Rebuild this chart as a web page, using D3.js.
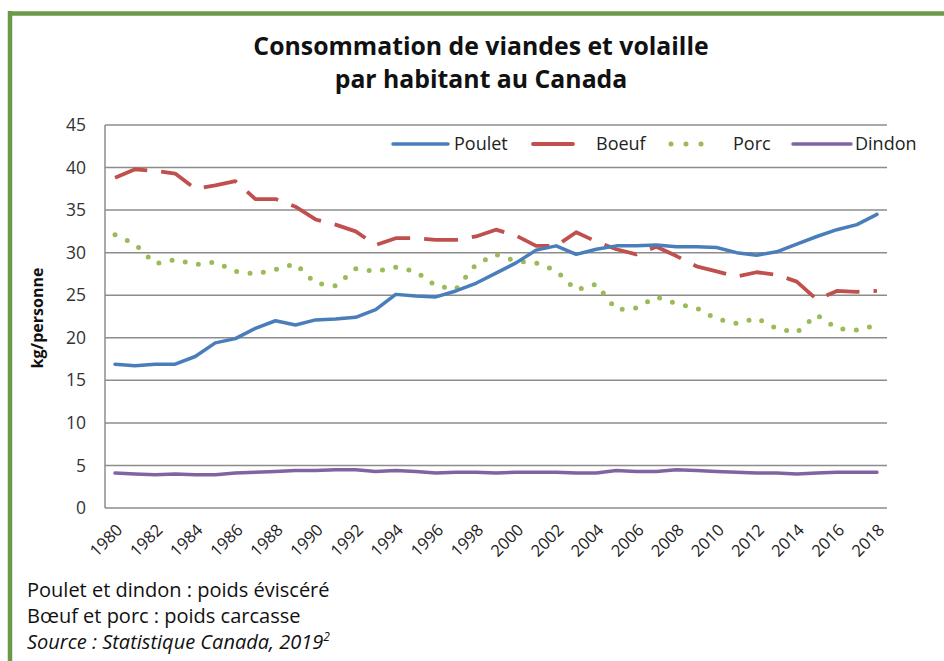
<!DOCTYPE html>
<html>
<head>
<meta charset="utf-8">
<script src="https://cdn.jsdelivr.net/npm/d3@7"></script>
<style>
  html, body { margin: 0; padding: 0; background: #fff; }
  svg { display: block; }
</style>
</head>
<body>
<svg id="chart" width="944" height="661"></svg>
<script>
const years = d3.range(1980, 2019);
const poulet = [16.9,16.7,16.9,16.9,17.8,19.4,19.9,21.1,22.0,21.5,22.1,22.2,22.4,23.3,25.1,24.9,24.8,25.5,26.4,27.6,28.8,30.3,30.8,29.8,30.4,30.8,30.8,30.9,30.7,30.7,30.6,30.0,29.7,30.1,31.0,31.9,32.7,33.3,34.5];
const boeuf = [38.8,39.8,39.6,39.3,37.5,37.9,38.4,36.3,36.3,35.4,33.9,33.3,32.5,30.9,31.7,31.7,31.5,31.5,31.9,32.7,32.0,30.8,30.8,32.4,31.3,30.4,29.8,30.7,29.6,28.4,27.8,27.2,27.7,27.4,26.6,24.5,25.5,25.4,25.5];
const porc = [32.1,31.0,28.7,29.2,28.6,28.9,27.8,27.5,28.0,28.7,26.4,26.1,28.1,27.8,28.3,27.8,26.1,25.7,28.6,29.8,29.0,28.8,27.9,25.6,26.3,23.3,23.5,24.8,24.0,23.5,22.2,21.7,22.3,21.1,20.6,22.7,21.1,20.9,21.5];
const dindon = [4.1,4.0,3.9,4.0,3.9,3.9,4.1,4.2,4.3,4.4,4.4,4.5,4.5,4.3,4.4,4.3,4.1,4.2,4.2,4.1,4.2,4.2,4.2,4.1,4.1,4.4,4.3,4.3,4.5,4.4,4.3,4.2,4.1,4.1,4.0,4.1,4.2,4.2,4.2];
const yTicks = [0,5,10,15,20,25,30,35,40,45];
const xTickYears = years.filter(y => y % 2 === 0);
const seriesNames = ["Poulet", "Boeuf", "Porc", "Dindon"];
const titleLines = ["Consommation de viandes et volaille", "par habitant au Canada"];
const notes = ["Poulet et dindon : poids éviscéré", "Bœuf et porc : poids carcasse"];
const source = "Source : Statistique Canada, 2019";

const FONT = "'Open Sans', Lato, sans-serif";
const svg = d3.select("#chart");

// frame
svg.append("line").attr("x1", 8).attr("x2", 944).attr("y1", 13.5).attr("y2", 13.5)
  .attr("stroke", "#6b9a47").attr("stroke-width", 4.5);
svg.append("line").attr("x1", 10).attr("x2", 10).attr("y1", 11).attr("y2", 661)
  .attr("stroke", "#6b9a47").attr("stroke-width", 4.5);

const L = 105, R = 887, T = 125, B = 508;
const x = d3.scalePoint().domain(years).range([L, R]).padding(0.5);
const y = d3.scaleLinear().domain([0, 45]).range([B, T]);

// gridlines
svg.append("g").selectAll("line").data(yTicks).join("line")
  .attr("x1", L).attr("x2", R)
  .attr("y1", d => y(d)).attr("y2", d => y(d))
  .attr("stroke", "#8c8c8c").attr("stroke-width", 1.5);
svg.append("line").attr("x1", L).attr("x2", L).attr("y1", T).attr("y2", B)
  .attr("stroke", "#8c8c8c").attr("stroke-width", 1.5);

// y tick labels
const yAxis = d3.axisLeft(y).tickValues(yTicks).tickSize(0).tickPadding(19);
const gy = svg.append("g").attr("transform", `translate(${L},0)`).call(yAxis);
gy.select(".domain").remove();
gy.selectAll("text").attr("font-family", FONT).attr("font-size", 17.5).attr("fill", "#333");

// x tick labels
const xAxis = d3.axisBottom(x).tickValues(xTickYears).tickSize(0).tickPadding(0);
const gx = svg.append("g").attr("transform", `translate(0,${B})`).call(xAxis);
gx.select(".domain").remove();
gx.selectAll("text")
  .attr("font-family", FONT).attr("font-size", 16.5).attr("fill", "#222")
  .attr("text-anchor", "end").attr("dy", null).attr("y", 0)
  .attr("transform", "translate(8,23) rotate(-45)");

// y axis title
svg.append("text").attr("transform", "translate(43,318) rotate(-90)")
  .attr("text-anchor", "middle").attr("font-family", FONT).attr("font-weight", "bold")
  .attr("font-size", 16).attr("fill", "#111").text("kg/personne");

// title
svg.append("g").selectAll("text").data(titleLines).join("text")
  .attr("x", 481).attr("y", (d, i) => 55 + i * 33)
  .attr("text-anchor", "middle").attr("font-family", FONT).attr("font-weight", "bold")
  .attr("font-size", 24.8).attr("fill", "#111").text(d => d);

const line = d3.line().x((d, i) => x(years[i])).y(d => y(d));
const styles = {
  Poulet: { color: "#4a7ebb", dash: null, cap: "round", w: 3.5 },
  Boeuf: { color: "#c0504d", dash: "34,14", cap: "butt", w: 3.8 },
  Porc: { color: "#9bbb59", dash: "0,13.5", cap: "round", w: 5 },
  Dindon: { color: "#8064a2", dash: null, cap: "round", w: 3.5 }
};
const data = { Poulet: poulet, Boeuf: boeuf, Porc: porc, Dindon: dindon };
const drawOrder = ["Dindon", "Porc", "Boeuf", "Poulet"];
drawOrder.forEach(name => {
  const s = styles[name];
  svg.append("path").datum(data[name]).attr("d", line)
    .attr("fill", "none").attr("stroke", s.color).attr("stroke-width", s.w)
    .attr("stroke-linecap", s.cap).attr("stroke-linejoin", "round")
    .attr("stroke-dasharray", s.dash);
});

// legend
const legend = [
  { name: "Poulet", x1: 393, x2: 448, tx: 454 },
  { name: "Boeuf", x1: 533, x2: 573, tx: 596 },
  { name: "Porc", x1: 671, x2: 716, tx: 733 },
  { name: "Dindon", x1: 793, x2: 851, tx: 855 }
];
const ly = 144;
const lg = svg.append("g");
legend.forEach(l => {
  const s = styles[l.name];
  lg.append("line").attr("x1", l.x1).attr("x2", l.x2).attr("y1", ly).attr("y2", ly)
    .attr("stroke", s.color).attr("stroke-width", s.w)
    .attr("stroke-linecap", "round")
    .attr("stroke-dasharray", l.name === "Porc" ? "0,15" : null);
  lg.append("text").attr("x", l.tx).attr("y", ly + 6).attr("font-family", FONT)
    .attr("font-size", 18).attr("fill", "#222").text(l.name);
});

// notes
svg.append("g").selectAll("text").data(notes).join("text")
  .attr("x", 27).attr("y", (d, i) => 597 + i * 26)
  .attr("font-family", FONT).attr("font-size", 20).attr("fill", "#111").text(d => d);
const st = svg.append("text").attr("x", 27).attr("y", 649)
  .attr("font-family", FONT).attr("font-size", 20).attr("font-style", "italic").attr("fill", "#111");
st.append("tspan").text(source);
st.append("tspan").attr("font-size", 12).attr("dy", -8).text("2");
</script>
</body>
</html>
